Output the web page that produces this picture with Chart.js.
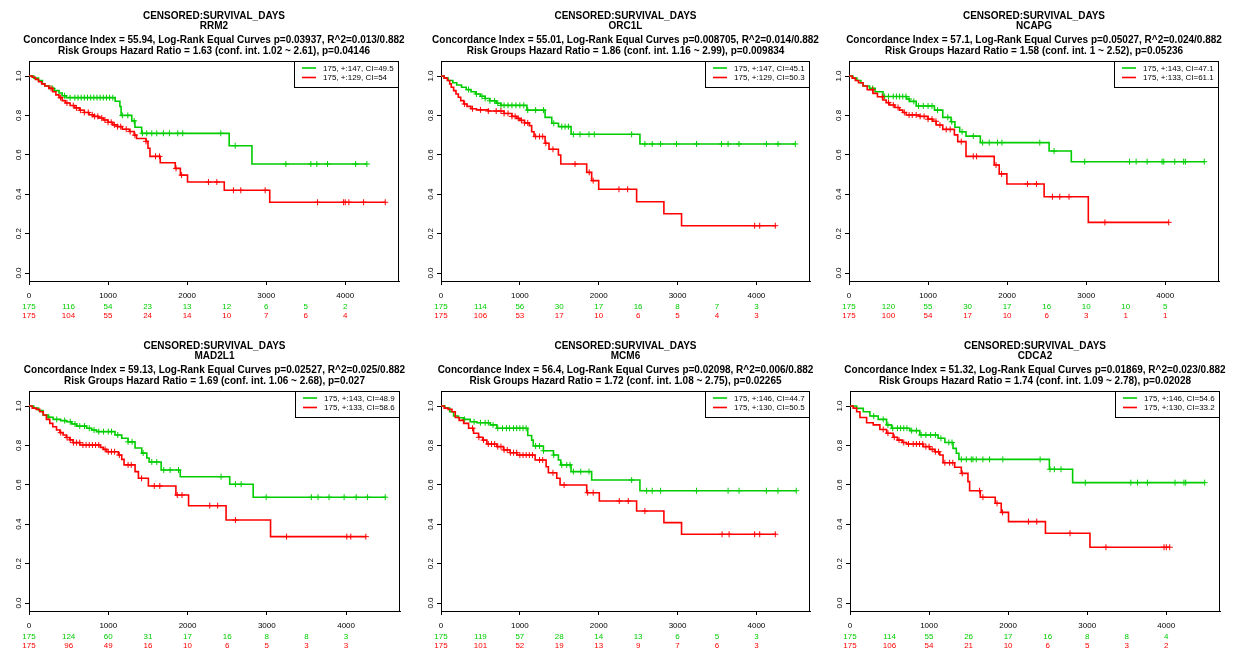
<!DOCTYPE html>
<html><head><meta charset="utf-8">
<script src="https://cdn.jsdelivr.net/npm/chart.js@4.4.1/dist/chart.umd.min.js"></script>
<style>
html,body{margin:0;padding:0;background:#fff;}
#wrap{position:relative;width:1234px;height:650px;overflow:hidden;background:#fff;}
canvas{position:absolute;}
</style></head><body><div id="wrap"></div>
<script>
// ---------- DATA ----------
const mainTitle = "CENSORED:SURVIVAL_DAYS";
const genes = ["RRM2", "ORC1L", "NCAPG", "MAD2L1", "MCM6", "CDCA2"];
const concordanceLines = [
  "Concordance Index = 55.94, Log-Rank Equal Curves p=0.03937, R^2=0.013/0.882",
  "Concordance Index = 55.01, Log-Rank Equal Curves p=0.008705, R^2=0.014/0.882",
  "Concordance Index = 57.1, Log-Rank Equal Curves p=0.05027, R^2=0.024/0.882",
  "Concordance Index = 59.13, Log-Rank Equal Curves p=0.02527, R^2=0.025/0.882",
  "Concordance Index = 56.4, Log-Rank Equal Curves p=0.02098, R^2=0.006/0.882",
  "Concordance Index = 51.32, Log-Rank Equal Curves p=0.01869, R^2=0.023/0.882"
];
const hazardLines = [
  "Risk Groups Hazard Ratio = 1.63 (conf. int. 1.02 ~ 2.61), p=0.04146",
  "Risk Groups Hazard Ratio = 1.86 (conf. int. 1.16 ~ 2.99), p=0.009834",
  "Risk Groups Hazard Ratio = 1.58 (conf. int. 1 ~ 2.52), p=0.05236",
  "Risk Groups Hazard Ratio = 1.69 (conf. int. 1.06 ~ 2.68), p=0.027",
  "Risk Groups Hazard Ratio = 1.72 (conf. int. 1.08 ~ 2.75), p=0.02265",
  "Risk Groups Hazard Ratio = 1.74 (conf. int. 1.09 ~ 2.78), p=0.02028"
];
const lowLegend = ["175, +:147, CI=49.5", "175, +:147, CI=45.1", "175, +:143, CI=47.1", "175, +:143, CI=48.9", "175, +:146, CI=44.7", "175, +:146, CI=54.6"];
const highLegend = ["175, +:129, CI=54", "175, +:129, CI=50.3", "175, +:133, CI=61.1", "175, +:133, CI=58.6", "175, +:130, CI=50.5", "175, +:130, CI=33.2"];

const riskTimes = [0, 500, 1000, 1500, 2000, 2500, 3000, 3500, 4000];
const lowRisk = [
  [175,116,54,23,13,12,6,5,2],
  [175,114,56,30,17,16,8,7,3],
  [175,120,55,30,17,16,10,10,5],
  [175,124,60,31,17,16,8,8,3],
  [175,119,57,28,14,13,6,5,3],
  [175,114,55,26,17,16,8,8,4]
];
const highRisk = [
  [175,104,55,24,14,10,7,6,4],
  [175,106,53,17,10,6,5,4,3],
  [175,100,54,17,10,6,3,1,1],
  [175,96,49,16,10,6,5,3,3],
  [175,101,52,19,13,9,7,6,3],
  [175,106,54,21,10,6,5,3,2]
];
const xTicks = [0, 1000, 2000, 3000, 4000];
const yTicks = [0, 0.2, 0.4, 0.6, 0.8, 1.0];

// Kaplan-Meier steps: [day, survival after step]; last entry = end of follow-up
const RRM2_low = [[0,1],[60,0.989],[120,0.977],[170,0.960],[200,0.949],[260,0.937],[320,0.926],[380,0.914],[420,0.900],[470,0.890],[1090,0.872],[1150,0.845],[1165,0.800],[1300,0.772],[1340,0.740],[1425,0.709],[2532,0.646],[2820,0.553],[4274,0.553]];
const RRM2_lowCens = [300,450,520,580,620,660,700,740,780,820,860,900,940,980,1020,1060,1180,1250,1330,1435,1489,1553,1616,1700,1776,1882,1945,2426,2608,3249,3565,3641,3776,4131,4274];
const RRM2_high = [[0,1],[40,0.994],[80,0.983],[120,0.971],[160,0.960],[200,0.949],[250,0.937],[300,0.920],[340,0.904],[380,0.890],[420,0.875],[460,0.863],[520,0.850],[580,0.838],[640,0.826],[700,0.815],[760,0.803],[820,0.795],[880,0.787],[940,0.777],[1000,0.765],[1060,0.752],[1120,0.743],[1180,0.730],[1270,0.718],[1330,0.700],[1360,0.683],[1480,0.668],[1505,0.633],[1530,0.592],[1660,0.560],[1850,0.531],[1915,0.497],[2005,0.462],[2470,0.420],[3045,0.359],[4506,0.359]];
const RRM2_highCens = [280,400,480,560,600,650,700,750,800,830,870,920,960,1000,1040,1080,1120,1160,1230,1280,1340,1480,1600,1650,1860,1930,2270,2376,2586,2679,2987,3650,3979,4000,4046,4232,4506];

const ORC1L_low = [[0,1],[40,0.989],[90,0.977],[150,0.966],[200,0.954],[260,0.943],[320,0.931],[380,0.920],[440,0.909],[500,0.897],[560,0.886],[620,0.874],[700,0.862],[760,0.851],[1090,0.827],[1320,0.790],[1405,0.760],[1490,0.743],[1650,0.704],[2523,0.655],[4494,0.655]];
const ORC1L_lowCens = [350,450,520,560,620,680,720,760,800,850,900,950,1000,1050,1100,1200,1300,1430,1532,1574,1616,1679,1763,1877,1944,2418,2586,2679,2785,2987,3241,3557,3641,3780,4127,4274,4494];
const ORC1L_high = [[0,1],[40,0.989],[80,0.977],[110,0.960],[130,0.943],[160,0.926],[190,0.909],[220,0.892],[250,0.875],[290,0.858],[330,0.846],[380,0.834],[450,0.828],[600,0.822],[800,0.810],[900,0.795],[960,0.785],[1000,0.775],[1060,0.762],[1120,0.748],[1150,0.717],[1180,0.693],[1320,0.659],[1370,0.628],[1489,0.599],[1519,0.553],[1848,0.511],[1911,0.469],[2000,0.425],[2481,0.362],[2827,0.301],[3051,0.240],[4240,0.240]];
const ORC1L_highCens = [300,400,500,600,700,760,800,850,900,940,980,1020,1060,1100,1200,1250,1290,1330,1420,1700,1880,1930,2257,2367,3978,4042,4240];

const NCAPG_low = [[0,1],[50,0.989],[100,0.977],[150,0.966],[180,0.949],[260,0.937],[330,0.920],[430,0.896],[730,0.883],[765,0.871],[850,0.848],[1081,0.827],[1186,0.790],[1291,0.768],[1340,0.740],[1400,0.717],[1480,0.695],[1661,0.662],[2531,0.619],[2812,0.565],[4494,0.565]];
const NCAPG_lowCens = [300,450,500,560,600,640,680,720,760,820,880,940,1000,1050,1120,1250,1300,1430,1572,1690,1774,1879,1934,2413,2594,2981,3548,3632,3771,3960,3981,4120,4233,4255,4494];
const NCAPG_high = [[0,1],[40,0.989],[80,0.977],[120,0.966],[177,0.949],[230,0.930],[303,0.912],[360,0.895],[429,0.878],[470,0.865],[513,0.853],[580,0.840],[639,0.827],[680,0.815],[724,0.802],[892,0.795],[1000,0.781],[1059,0.770],[1102,0.751],[1186,0.729],[1333,0.701],[1375,0.667],[1480,0.592],[1837,0.548],[1900,0.503],[1997,0.452],[2468,0.387],[3027,0.257],[4044,0.257]];
const NCAPG_highCens = [300,420,500,560,620,700,760,800,850,900,950,1000,1050,1100,1150,1230,1280,1420,1572,1614,1860,1930,2257,2371,2573,2666,2783,3237,4044];

const MAD2L1_low = [[0,1],[60,0.989],[120,0.977],[177,0.954],[240,0.943],[304,0.932],[400,0.926],[473,0.920],[540,0.909],[600,0.898],[727,0.887],[790,0.878],[853,0.870],[1085,0.853],[1170,0.836],[1250,0.818],[1338,0.787],[1423,0.761],[1486,0.736],[1515,0.716],[1667,0.675],[1908,0.641],[2532,0.603],[2828,0.537],[4494,0.537]];
const MAD2L1_lowCens = [250,350,450,520,580,640,700,760,820,880,940,1000,1040,1120,1250,1300,1440,1549,1612,1700,1780,1886,2423,2604,2676,2992,3562,3646,3785,3975,4127,4271,4494];
const MAD2L1_high = [[0,1],[40,0.989],[90,0.983],[135,0.971],[180,0.954],[220,0.932],[262,0.912],[300,0.895],[347,0.878],[390,0.865],[430,0.853],[470,0.840],[515,0.828],[557,0.814],[642,0.802],[900,0.790],[937,0.780],[979,0.768],[1127,0.751],[1170,0.729],[1199,0.701],[1338,0.667],[1380,0.633],[1506,0.594],[1853,0.548],[2013,0.494],[2486,0.421],[3047,0.337],[4249,0.337]];
const MAD2L1_highCens = [400,480,520,560,600,640,680,720,760,800,840,880,960,1000,1040,1080,1140,1250,1290,1420,1580,1650,1870,1930,2280,2380,2604,3249,4009,4059,4249];

const MCM6_low = [[0,1],[50,0.989],[110,0.971],[160,0.949],[220,0.940],[287,0.932],[370,0.920],[456,0.915],[624,0.904],[709,0.887],[1100,0.850],[1150,0.827],[1170,0.797],[1299,0.773],[1426,0.751],[1489,0.726],[1519,0.701],[1649,0.667],[1911,0.624],[2523,0.570],[4506,0.570]];
const MCM6_lowCens = [300,420,500,560,600,660,720,780,830,870,920,960,1000,1040,1080,1200,1250,1300,1430,1532,1595,1637,1679,1772,1877,2418,2608,2679,2785,3241,3641,3780,4127,4274,4506];
const MCM6_high = [[0,1],[40,0.989],[90,0.983],[139,0.971],[181,0.942],[230,0.927],[287,0.912],[350,0.887],[413,0.862],[476,0.841],[530,0.827],[582,0.807],[709,0.794],[793,0.777],[877,0.763],[962,0.751],[1194,0.726],[1333,0.692],[1362,0.661],[1468,0.633],[1510,0.599],[1848,0.560],[2008,0.518],[2481,0.467],[2827,0.408],[3051,0.349],[4240,0.349]];
const MCM6_highCens = [400,480,540,600,640,680,720,760,800,840,880,920,960,1000,1040,1080,1120,1160,1250,1290,1420,1561,1860,1930,2261,2375,2586,3565,3654,3978,4042,4240];

const CDCA2_low = [[0,1],[84,0.988],[168,0.971],[252,0.949],[357,0.932],[463,0.904],[526,0.887],[757,0.875],[883,0.853],[1114,0.836],[1200,0.815],[1303,0.785],[1345,0.760],[1378,0.729],[2522,0.679],[2816,0.611],[4486,0.611]];
const CDCA2_lowCens = [300,420,480,540,600,640,680,720,780,840,900,960,1020,1080,1150,1250,1290,1408,1471,1534,1555,1597,1681,1765,1933,2405,2530,2585,2669,2976,3552,3636,3762,4111,4224,4246,4486];
const CDCA2_high = [[0,1],[40,0.989],[84,0.971],[126,0.942],[210,0.915],[294,0.904],[378,0.881],[463,0.862],[546,0.841],[600,0.827],[660,0.815],[715,0.807],[924,0.794],[1009,0.780],[1072,0.768],[1135,0.751],[1177,0.712],[1324,0.689],[1408,0.658],[1492,0.616],[1513,0.570],[1648,0.537],[1837,0.506],[1913,0.460],[2005,0.413],[2472,0.354],[3035,0.283],[4044,0.283]];
const CDCA2_highCens = [420,480,560,620,680,740,800,840,880,920,960,1000,1040,1080,1120,1200,1260,1300,1420,1639,1681,1860,1930,2257,2362,2783,3237,3972,4001,4044];

// ---------- RENDERING ----------
const FONT = '"Liberation Sans", Arial, Helvetica, sans-serif';
const GREEN = '#00cd00';
const RED = '#ff0000';
Chart.defaults.font.family = FONT;

const lowCurves = [RRM2_low, ORC1L_low, NCAPG_low, MAD2L1_low, MCM6_low, CDCA2_low];
const lowCens = [RRM2_lowCens, ORC1L_lowCens, NCAPG_lowCens, MAD2L1_lowCens, MCM6_lowCens, CDCA2_lowCens];
const highCurves = [RRM2_high, ORC1L_high, NCAPG_high, MAD2L1_high, MCM6_high, CDCA2_high];
const highCens = [RRM2_highCens, ORC1L_highCens, NCAPG_highCens, MAD2L1_highCens, MCM6_highCens, CDCA2_highCens];

// layout of the 6 panels (pixel geometry)
const panelBoxes = [
  {x:0,   y:0,   w:410, h:330, pl:29, pr:399},
  {x:410, y:0,   w:410, h:330, pl:31, pr:400},
  {x:820, y:0,   w:414, h:330, pl:29, pr:399},
  {x:0,   y:330, w:410, h:320, pl:29, pr:400},
  {x:410, y:330, w:410, h:320, pl:31, pr:400},
  {x:820, y:330, w:414, h:320, pl:30, pr:400}
];
const PLOT_TOP = 61, PLOT_BOTTOM = 281;

function stepValue(curve, t) {
  let s = curve[0][1];
  for (const [ti, si] of curve) { if (ti <= t) s = si; else break; }
  return s;
}

const kmPlugin = {
  id: 'kmDecor',
  afterDraw(chart, args, o) {
    const {ctx, chartArea: a} = chart;
    const xs = chart.scales.x, ys = chart.scales.y;
    const i = o.index;
    ctx.save();
    // box top & right
    ctx.strokeStyle = '#000'; ctx.lineWidth = 1;
    ctx.beginPath();
    ctx.moveTo(Math.round(a.left), Math.round(a.top) + 0.5);
    ctx.lineTo(Math.round(a.right) - 0.5, Math.round(a.top) + 0.5);
    ctx.lineTo(Math.round(a.right) - 0.5, Math.round(a.bottom));
    ctx.stroke();
    // titles
    const cx = (a.left + a.right) / 2;
    ctx.fillStyle = '#000';
    ctx.textAlign = 'center'; ctx.textBaseline = 'alphabetic';
    ctx.font = 'bold 10px ' + FONT;
    ctx.fillText(mainTitle, cx, 18.5);
    ctx.fillText(genes[i], cx, 28.5);
    ctx.fillText(concordanceLines[i], cx, 42.7);
    ctx.fillText(hazardLines[i], cx, 54.3);
    // rotated y tick labels
    ctx.font = '8px ' + FONT;
    ys.ticks.forEach(tk => {
      const py = ys.getPixelForValue(tk.value);
      ctx.save();
      ctx.translate(a.left - 8.3, py);
      ctx.rotate(-Math.PI / 2);
      ctx.fillText(tk.value.toFixed(1), 0, 0);
      ctx.restore();
    });
    // number at risk
    riskTimes.forEach((t, k) => {
      const px = xs.getPixelForValue(t);
      ctx.fillStyle = GREEN; ctx.fillText(String(lowRisk[i][k]), px, a.bottom + 28);
      ctx.fillStyle = RED; ctx.fillText(String(highRisk[i][k]), px, a.bottom + 37.3);
    });
    // legend
    const bw = 105, bh = 26;
    const bx = Math.round(a.right) - bw, by = Math.round(a.top);
    ctx.fillStyle = '#fff'; ctx.fillRect(bx, by, bw, bh);
    ctx.strokeStyle = '#000'; ctx.strokeRect(bx + 0.5, by + 0.5, bw - 1, bh);
    ctx.lineWidth = 1.6;
    ctx.textAlign = 'left';
    ctx.strokeStyle = GREEN; ctx.beginPath(); ctx.moveTo(bx + 8, by + 7); ctx.lineTo(bx + 22, by + 7); ctx.stroke();
    ctx.strokeStyle = RED; ctx.beginPath(); ctx.moveTo(bx + 8, by + 16.5); ctx.lineTo(bx + 22, by + 16.5); ctx.stroke();
    ctx.fillStyle = '#000';
    ctx.fillText(lowLegend[i], bx + 29, by + 9.8);
    ctx.fillText(highLegend[i], bx + 29, by + 19.3);
    ctx.restore();
  }
};

const wrap = document.getElementById('wrap');
panelBoxes.forEach((b, i) => {
  const cv = document.createElement('canvas');
  cv.width = b.w; cv.height = b.h;
  cv.style.left = b.x + 'px'; cv.style.top = b.y + 'px';
  cv.style.width = b.w + 'px'; cv.style.height = b.h + 'px';
  wrap.appendChild(cv);
  const lc = lowCurves[i], hc = highCurves[i];
  const yMin = -(PLOT_BOTTOM - 273) / 197, yMax = 1 + (76 - PLOT_TOP) / 197;
  new Chart(cv, {
    type: 'line',
    data: {
      datasets: [
        {label: highLegend[i], data: hc.map(([t, s]) => ({x: t, y: s})), stepped: true, borderColor: RED, borderWidth: 1.6, pointRadius: 0, fill: false},
        {label: 'high censored', data: highCens[i].map(t => ({x: t, y: stepValue(hc, t)})), showLine: false, pointStyle: 'cross', pointRadius: 3, borderColor: RED, borderWidth: 1, pointBorderWidth: 1},
        {label: lowLegend[i], data: lc.map(([t, s]) => ({x: t, y: s})), stepped: true, borderColor: GREEN, borderWidth: 1.6, pointRadius: 0, fill: false},
        {label: 'low censored', data: lowCens[i].map(t => ({x: t, y: stepValue(lc, t)})), showLine: false, pointStyle: 'cross', pointRadius: 3, borderColor: GREEN, borderWidth: 1, pointBorderWidth: 1}
      ]
    },
    options: {
      responsive: false, animation: false, devicePixelRatio: 1,
      layout: {padding: {left: 0, top: PLOT_TOP, right: b.w - b.pr, bottom: 0}},
      plugins: {legend: {display: false}, title: {display: false}, tooltip: {enabled: false}, kmDecor: {index: i}},
      scales: {
        x: {
          type: 'linear', min: 0, max: 4680,
          afterBuildTicks: s => { s.ticks = xTicks.map(v => ({value: v})); },
          ticks: {font: {size: 8}, color: '#000', padding: 6, maxRotation: 0, autoSkip: false, includeBounds: false,
                  callback: v => String(v)},
          grid: {drawOnChartArea: false, drawTicks: true, tickLength: 4, color: '#000'},
          border: {display: true, color: '#000', width: 1},
          afterFit: s => { s.height = b.h - PLOT_BOTTOM; }
        },
        y: {
          type: 'linear', min: yMin, max: yMax,
          afterBuildTicks: s => { s.ticks = yTicks.map(v => ({value: v})); },
          ticks: {display: false, includeBounds: false},
          grid: {drawOnChartArea: false, drawTicks: true, tickLength: 4, color: '#000'},
          border: {display: true, color: '#000', width: 1},
          afterFit: s => { s.width = b.pl; }
        }
      }
    },
    plugins: [kmPlugin]
  });
});
</script></body></html>
